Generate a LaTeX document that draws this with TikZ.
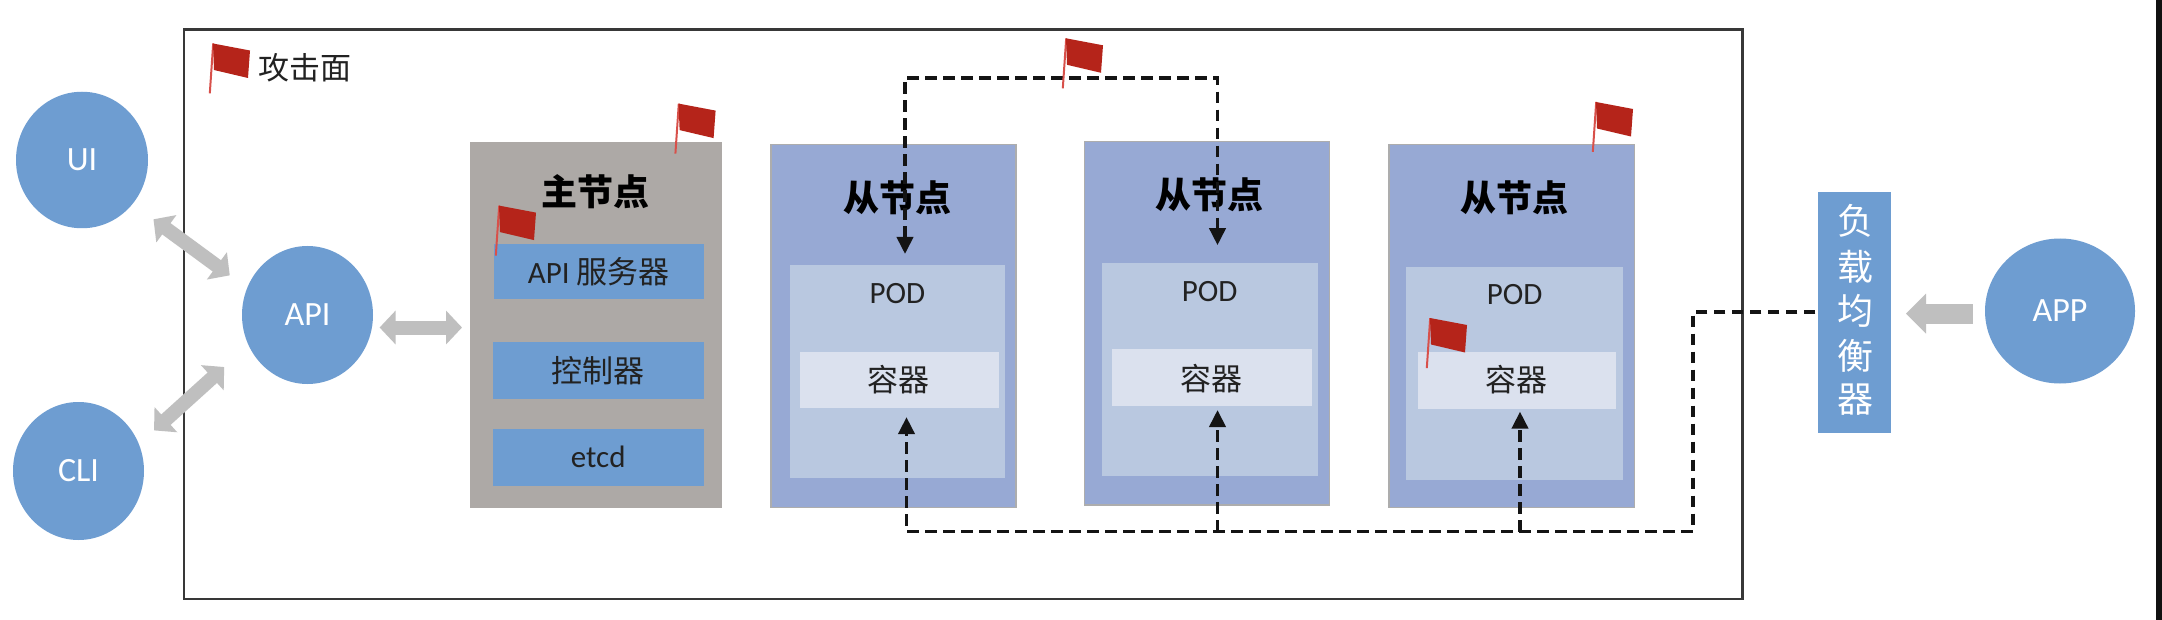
\documentclass[tikz,border=0pt]{standalone}
\usepackage{fontspec}
\setmainfont{Carlito}
\newfontfamily\cjk{Noto Sans CJK SC}
\usetikzlibrary{arrows.meta,calc,shapes.geometric}
\definecolor{nodeblue}{HTML}{6E9DD1}
\definecolor{mastergray}{HTML}{ADA9A6}
\definecolor{workerblue}{HTML}{97A9D4}
\definecolor{podblue}{HTML}{B9C8E0}
\definecolor{ctrblue}{HTML}{DBE1EE}
\definecolor{arrowgray}{HTML}{BFBFBF}
\definecolor{flagred}{HTML}{B5241A}
\definecolor{polered}{HTML}{D8504A}
\definecolor{inktext}{HTML}{222222}
\definecolor{edgeblack}{HTML}{111111}
\tikzset{
  x=1pt,y=-1pt,
  box/.style={rectangle,inner sep=0pt,outer sep=0pt},
  circ/.style={ellipse,inner sep=0pt,outer sep=0pt,fill=nodeblue,text=white,font=\fontsize{34}{34}\selectfont},
  blue box/.style={box,fill=nodeblue,text=inktext,font=\fontsize{31}{31}\selectfont},
  worker/.style={box,fill=workerblue,draw=black!32,line width=1.2pt},
  podbox/.style={box,fill=podblue},
  ctr/.style={box,fill=ctrblue},
  title/.style={inner sep=0pt,text=black,font=\cjk\bfseries\fontsize{36}{36}\selectfont},
  label/.style={inner sep=0pt,text=inktext,font=\fontsize{31}{31}\selectfont},
  lbchar/.style={inner sep=0pt,text=white,font=\cjk\fontsize{36}{36}\selectfont},
  gray both/.style={draw=arrowgray,line width=14pt,{Triangle[length=16pt,width=33pt]}-{Triangle[length=16pt,width=33pt]}},
  gray one/.style={draw=arrowgray,line width=20pt,-{Triangle[length=20pt,width=39pt]}},
  dashline/.style={draw=black!92,line width=3.8pt,dash pattern=on 11.5pt off 6.5pt},
  tipped/.style={-{Triangle[length=17pt,width=16pt]}},
  tipped both/.style={{Triangle[length=17pt,width=16pt]}-{Triangle[length=17pt,width=16pt]}},
}
\newcommand{\redflag}[2]{%
  \begin{scope}[shift={(#1,#2)}]
    \fill[polered] (-0.8,0) -- (1.2,0) -- (-2.2,50) -- (-4.2,50) -- cycle;
    \fill[flagred] (0,0) -- (37,7) -- (35,34.5) -- (1,26.5) -- cycle;
  \end{scope}}
\newcommand{\boxat}[7]{\node[#1,minimum width=#5pt-#3pt,minimum height=#6pt-#4pt,anchor=north west] (#2) at (#3,#4) {#7};}
\begin{document}
\begin{tikzpicture}
\useasboundingbox (0,0) rectangle (2162,620);
\fill[white] (0,0) rectangle (2162,620);
\fill[edgeblack] (2156,0) rectangle (2162,620);
% frame
\node[box,draw=black!78,line width=2.6pt,minimum width=1558.5pt,minimum height=569.5pt,anchor=north west] (frame) at (184,29.5) {};
% circles
\node[circ,minimum width=132pt,minimum height=136.5pt] (UI) at (82,160) {UI};
\node[circ,minimum width=131pt,minimum height=138pt] (CLI) at (78.5,471) {CLI};
\node[circ,minimum width=131pt,minimum height=138pt] (API) at (307.5,315) {API};
\node[circ,minimum width=150pt,minimum height=145pt] (APP) at (2060,311) {APP};
% master
\boxat{box,fill=mastergray}{master}{470}{142}{722}{508}{}
\boxat{blue box}{apisrv}{493.5}{244}{704}{299}{API {\cjk 服务器}}
\boxat{blue box}{ctrl}{492.5}{342}{704}{398.5}{\cjk 控制器}
\boxat{blue box}{etcd}{492.5}{429}{704}{485.5}{etcd}
\node[title] (mastert) at (595,192) {主节点};
% workers
\boxat{worker}{w1}{771}{144.6}{1016}{507.6}{}
\boxat{podbox}{pod1}{789.6}{265.5}{1005.4}{478}{}
\boxat{ctr}{c1}{799.7}{351.6}{998.5}{407.6}{}
\node[title] (w1t) at (897,197.5) {从节点};
\node[label] (pod1t) at (897.4,293.5) {POD};
\node[label,font=\cjk\fontsize{31}{31}\selectfont] (c1t) at (898,380) {容器};
\boxat{worker}{w2}{1084.4}{141.4}{1329.6}{505}{}
\boxat{podbox}{pod2}{1101.8}{262.7}{1318}{475.6}{}
\boxat{ctr}{c2}{1111.9}{349}{1312}{406}{}
\node[title] (w2t) at (1209.6,194.7) {从节点};
\node[label] (pod2t) at (1209.6,291.5) {POD};
\node[label,font=\cjk\fontsize{31}{31}\selectfont] (c2t) at (1211,378.4) {容器};
\boxat{worker}{w3}{1389}{144.6}{1634.7}{507.6}{}
\boxat{podbox}{pod3}{1405.8}{266.6}{1623}{479.5}{}
\boxat{ctr}{c3}{1418}{351.6}{1616}{409}{}
\node[title] (w3t) at (1514,197.5) {从节点};
\node[label] (pod3t) at (1514.7,294.3) {POD};
\node[label,font=\cjk\fontsize{31}{31}\selectfont] (c3t) at (1516.6,380) {容器};
% load balancer
\boxat{box,fill=nodeblue}{lb}{1818.4}{192.4}{1891.4}{433}{}
\node[lbchar] (lb1) at (1855.4,221) {负};
\node[lbchar] (lb2) at (1855.4,266.5) {载};
\node[lbchar] (lb3) at (1855.4,311) {均};
\node[lbchar] (lb4) at (1855.4,355.5) {衡};
\node[lbchar] (lb5) at (1855.4,400) {器};
% attack surface caption
\node[label,font=\cjk\fontsize{31}{31}\selectfont,anchor=west] (atk) at (258,68) {攻击面};
% gray arrows
\draw[gray both,shorten <=26pt,shorten >=21.6pt] (UI.-41) -- (API.156);
\draw[gray both,shorten <=20.5pt,shorten >=32.8pt] (CLI.24.6) -- (API.207.9);
\draw[gray both,shorten <=7.7pt,shorten >=8pt] (API.-11.4) -- (API.-11.4 -| master.west);
\draw[gray one,shorten <=12.5pt,shorten >=14.6pt] (APP.182.4) -- (APP.182.4 -| lb.east);
% dashed connectors
\coordinate (topL) at (905,78);
\coordinate (topR) at (1217.5,78);
\coordinate (lowL) at (906.5,531.5);
\coordinate (lowM) at (1217.5,531.5);
\coordinate (lowN) at (1520,531.5);
\coordinate (lowR) at (1693,531.5);
\coordinate (lbIn) at (1693,312);
\draw[dashline,tipped both,shorten <=11.5pt,shorten >=17.5pt,line join=miter]
  (topL |- pod1.north) -- (topL) -- (topR) -- (topR |- pod2.north);
\draw[dashline,tipped,shorten <=3pt,shorten >=9.5pt]
  (lbIn -| lb.west) -- (lbIn) -- (lowR) -- (lowL) -- (lowL |- c1.south);
\draw[dashline,tipped,shorten >=4pt] (lowM) -- (lowM |- c2.south);
\draw[dashline,tipped,shorten >=2.6pt] (lowN) -- (lowN |- c3.south);
% flags
\redflag{213}{43.5}
\redflag{678.6}{103.6}
\redflag{499}{205.6}
\redflag{1066}{38.3}
\redflag{1596}{102}
\redflag{1430}{318}
\end{tikzpicture}
\end{document}
